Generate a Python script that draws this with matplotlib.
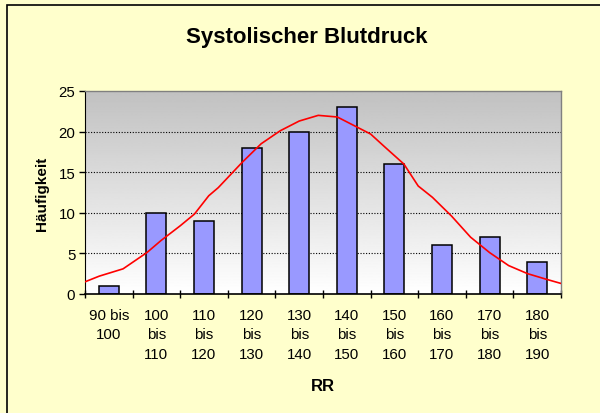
import matplotlib.pyplot as plt
import numpy as np
from matplotlib.patches import Rectangle

plt.rcParams['font.family'] = ['Liberation Sans', 'DejaVu Sans']

# class labels and counts
labels = ["90 bis\n100", "100\nbis\n110", "110\nbis\n120", "120\nbis\n130",
          "130\nbis\n140", "140\nbis\n150", "150\nbis\n160", "160\nbis\n170",
          "170\nbis\n180", "180\nbis\n190"]
counts = [1, 10, 9, 18, 20, 23, 16, 6, 7, 4]

# normal curve (RR value, frequency)
curve_rr = [90, 93, 98, 103, 106, 110, 113, 116, 118, 123, 127, 131, 135, 139,
            143, 146, 150, 153, 157, 160, 163, 167, 171, 175, 179, 183, 187, 190]
curve_val = [1.5, 2.2, 3.1, 5.1, 6.6, 8.4, 9.85, 12.1, 13.1, 16.2, 18.5, 20.1,
             21.3, 22.0, 21.8, 20.9, 19.7, 18.1, 16.0, 13.3, 11.9, 9.6, 7.0,
             5.1, 3.5, 2.5, 1.8, 1.3]

bg = '#FFFFCC'
fig = plt.figure(figsize=(6, 4.14), dpi=100, facecolor=bg)

# chart frame
fig.patches.append(Rectangle((7 / 600, -0.1), 1.2, 1 - 6 / 414 + 0.1,
                             transform=fig.transFigure, facecolor=bg,
                             edgecolor='black', linewidth=1.2, zorder=-1))

ax = fig.add_axes([85 / 600, 1 - 295 / 414, 476 / 600, 203 / 414])
ax.set_facecolor('white')

# gray gradient background
grad = np.linspace(0, 1, 256).reshape(-1, 1)
ax.imshow(grad, cmap='gray', vmin=-3.1, vmax=1.0, aspect='auto',
          extent=[0, 1, 0, 1], transform=ax.transAxes, zorder=0)

x = np.arange(len(counts))
for y in [5, 10, 15, 20]:
    ax.axhline(y, color='black', linestyle=(0, (1, 1.5)), linewidth=0.8, zorder=1)

ax.bar(x, counts, width=0.42, color='#9999FF', edgecolor='black',
       linewidth=1.1, zorder=2)

cx = (np.array(curve_rr) - 95) / 10.0
ax.plot(cx, curve_val, color='red', linewidth=1.2, zorder=3)

ax.set_xlim(-0.5, 9.5)
ax.set_ylim(0, 25)
ax.set_yticks([0, 5, 10, 15, 20, 25])
ax.set_xticks(x)
ax.set_xticklabels(labels, fontsize=10.8, linespacing=1.5, va='top')
ax.set_xticks(np.arange(-0.5, 10, 1), minor=True)
ax.tick_params(axis='x', which='major', length=0, pad=10)
ax.tick_params(axis='x', which='minor', length=6, direction='inout', width=1)
ax.tick_params(axis='y', length=4, width=1, labelsize=10.8, pad=3)

for s in ['top', 'right']:
    ax.spines[s].set_color('#808080')
    ax.spines[s].set_linewidth(1)
ax.spines['left'].set_color('black')
ax.spines['bottom'].set_color('black')
ax.spines['bottom'].set_linewidth(1.2)

ax.set_ylabel('Häufigkeit', fontsize=11, fontweight='bold', labelpad=7)
ax.set_xlabel('RR', fontsize=12, fontweight='bold', labelpad=12)

fig.text(307 / 600, 1 - 37 / 414, 'Systolischer Blutdruck', fontsize=16,
         fontweight='bold', ha='center', va='center')

fig.savefig('out.png', dpi=100, facecolor=bg)
